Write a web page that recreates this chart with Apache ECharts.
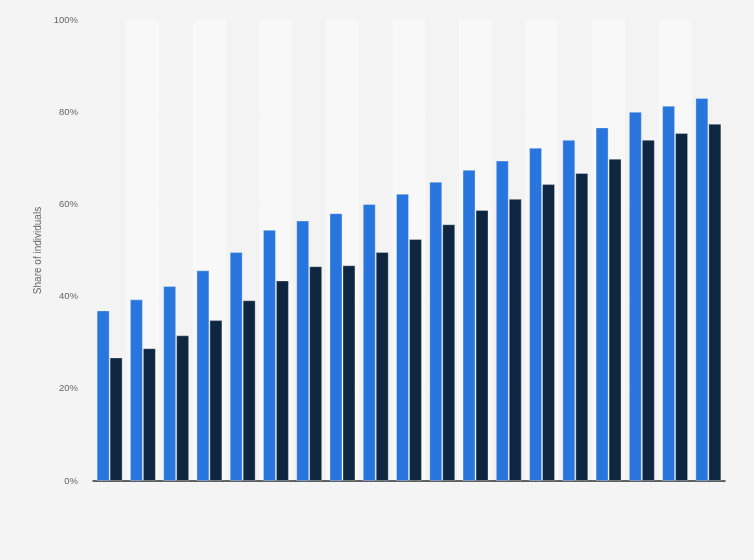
<!DOCTYPE html>
<html>
<head>
<meta charset="utf-8">
<script src="https://cdn.jsdelivr.net/npm/echarts@6/dist/echarts.min.js"></script>
<style>
html,body{margin:0;padding:0;background:#f4f4f4;}
#chart{width:754px;height:560px;}
</style>
</head>
<body>
<div id="chart"></div>
<script>
const categories = ['1','2','3','4','5','6','7','8','9','10','11','12','13','14','15','16','17','18','19'];
const seriesA = [37.0, 39.4, 42.3, 45.7, 49.7, 54.5, 56.5, 58.1, 60.1, 62.3, 64.9, 67.5, 69.5, 72.3, 74.0, 76.7, 80.1, 81.4, 83.1];
const seriesB = [26.8, 28.8, 31.6, 34.9, 39.2, 43.5, 46.6, 46.8, 49.7, 52.5, 55.7, 58.8, 61.2, 64.4, 66.8, 69.9, 74.0, 75.5, 77.5];
const yTicks = [0, 20, 40, 60, 80, 100];

const chart = echarts.init(document.getElementById('chart'), null, {renderer: 'canvas'});
chart.setOption({
  backgroundColor: '#f4f4f4',
  animation: false,
  grid: {left: 93, right: 29, top: 20, bottom: 79, containLabel: false},
  xAxis: {
    type: 'category',
    data: categories,
    axisLine: {show: true, lineStyle: {color: '#333', width: 1.5}},
    axisTick: {show: false},
    axisLabel: {show: false},
    splitArea: {show: true, areaStyle: {color: ['#f3f3f3', '#f8f8f8']}}
  },
  yAxis: {
    type: 'value',
    min: yTicks[0],
    max: yTicks[yTicks.length - 1],
    interval: 20,
    name: 'Share of individuals',
    nameLocation: 'middle',
    nameGap: 44,
    nameTextStyle: {color: '#666', fontSize: 10, fontFamily: 'Liberation Sans, Arial, sans-serif'},
    axisLine: {show: false},
    axisTick: {show: false},
    axisLabel: {
      color: '#666', fontSize: 9.5, margin: 15,
      fontFamily: 'Liberation Sans, Arial, sans-serif',
      formatter: v => v + '%'
    },
    splitLine: {show: true, lineStyle: {color: '#d8d8d8', type: [1, 1], width: 1}}
  },
  series: [
    {
      type: 'bar',
      data: seriesA,
      barGap: '0%',
      barCategoryGap: '22%',
      itemStyle: {color: '#2876dd', borderColor: 'rgba(255,255,255,0.3)', borderWidth: 1}
    },
    {
      type: 'bar',
      data: seriesB,
      itemStyle: {color: '#0f2640', borderColor: 'rgba(255,255,255,0.3)', borderWidth: 1}
    }
  ]
});
</script>
</body>
</html>
